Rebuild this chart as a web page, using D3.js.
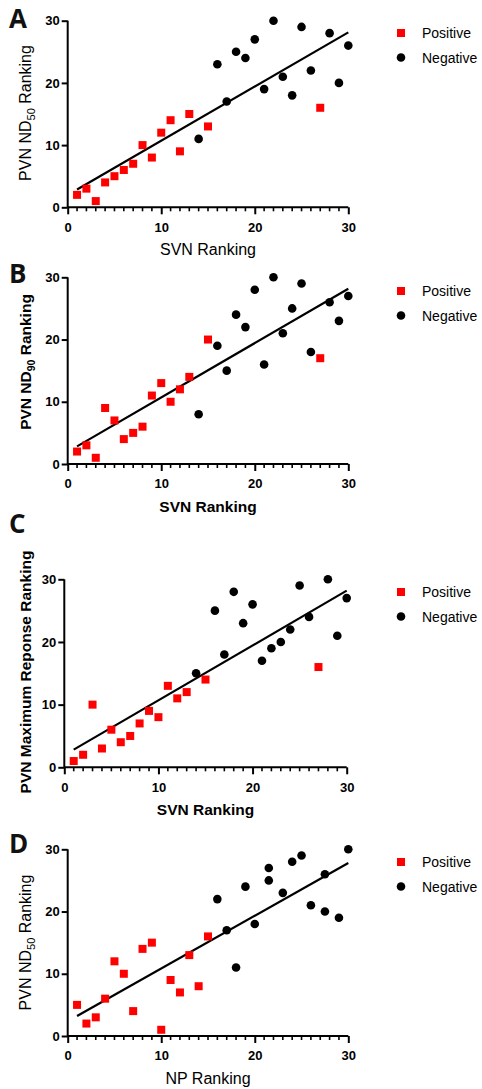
<!DOCTYPE html>
<html>
<head>
<meta charset="utf-8">
<script src="https://cdn.jsdelivr.net/npm/d3@7"></script>
<style>
html,body{margin:0;padding:0;background:#fff;}
svg{display:block;}
</style>
</head>
<body>
<svg id="chart" width="482" height="1089"></svg>
<script>
// ---------------- DATA ----------------
const panelLetters = ["A", "B", "C", "D"];
const xTickValues = [0, 10, 20, 30];
const yTickValues = [0, 10, 20, 30];
const legendLabels = ["Positive", "Negative"];

// Panel A: SVN ranking vs PVN ND50 ranking
const aPosX = [1, 2, 3, 4, 5, 6, 7, 8, 9, 10, 11, 12, 13, 15, 27];
const aPosY = [2, 3, 1, 4, 5, 6, 7, 10, 8, 12, 14, 9, 15, 13, 16];
const aNegX = [14, 16, 17, 18, 19, 20, 21, 22, 23, 24, 25, 26, 28, 29, 30];
const aNegY = [11, 23, 17, 25, 24, 27, 19, 30, 21, 18, 29, 22, 28, 20, 26];

// Panel B: SVN ranking vs PVN ND90 ranking
const bPosX = [1, 2, 3, 4, 5, 6, 7, 8, 9, 10, 11, 12, 13, 15, 27];
const bPosY = [2, 3, 1, 9, 7, 4, 5, 6, 11, 13, 10, 12, 14, 20, 17];
const bNegX = [14, 16, 17, 18, 19, 20, 21, 22, 23, 24, 25, 26, 28, 29, 30];
const bNegY = [8, 19, 15, 24, 22, 28, 16, 30, 21, 25, 29, 18, 26, 23, 27];

// Panel C: SVN ranking vs PVN maximum response ranking
const cPosX = [1, 2, 3, 4, 5, 6, 7, 8, 9, 10, 11, 12, 13, 15, 27];
const cPosY = [1, 2, 10, 3, 6, 4, 5, 7, 9, 8, 13, 11, 12, 14, 16];
const cNegX = [14, 16, 17, 18, 19, 20, 21, 22, 23, 24, 25, 26, 28, 29, 30];
const cNegY = [15, 25, 18, 28, 23, 26, 17, 19, 20, 22, 29, 24, 30, 21, 27];

// Panel D: NP ranking vs PVN ND50 ranking
const dPosX = [1, 2, 3, 4, 5, 6, 7, 8, 9, 10, 11, 12, 13, 14, 15];
const dPosY = [5, 2, 3, 6, 12, 10, 4, 14, 15, 1, 9, 7, 13, 8, 16];
const dNegX = [16, 17, 18, 19, 20, 21.5, 21.5, 23, 24, 25, 26, 27.5, 27.5, 29, 30];
const dNegY = [22, 17, 11, 24, 18, 27, 25, 23, 28, 29, 21, 26, 20, 19, 30];

const yTitles = [
  ["PVN ND", "50", " Ranking"],
  ["PVN ND", "90", " Ranking"],
  ["PVN Maximum Reponse Ranking", "", ""],
  ["PVN ND", "50", " Ranking"]
];
const xTitles = ["SVN Ranking", "SVN Ranking", "SVN Ranking", "NP Ranking"];

// ---------------- LAYOUT ----------------
const layout = [
  {x0: 67.7, x1: 348.3, yTop: 20.7, yBot: 207.3, bold: false, letterY: 28, xTitleY: 255, yTitleC: 113, legY: 33},
  {x0: 67.7, x1: 348.3, yTop: 277.3, yBot: 464, bold: true, letterY: 283, xTitleY: 512, yTitleC: 362, legY: 291},
  {x0: 64.3, x1: 346.7, yTop: 579.3, yBot: 767.3, bold: true, letterY: 533, xTitleY: 815, yTitleC: 672, legY: 592},
  {x0: 67.7, x1: 348.3, yTop: 849.3, yBot: 1036, bold: false, letterY: 853, xTitleY: 1083.5, yTitleC: 942.5, legY: 862}
];

const panels = [
  {pos: [aPosX, aPosY], neg: [aNegX, aNegY]},
  {pos: [bPosX, bPosY], neg: [bNegX, bNegY]},
  {pos: [cPosX, cPosY], neg: [cNegX, cNegY]},
  {pos: [dPosX, dPosY], neg: [dNegX, dNegY]}
];

const RED = "#ff0000";
const svg = d3.select("#chart");
const FONT = "'Liberation Sans', Arial, sans-serif";

function linfit(xs, ys) {
  const n = xs.length;
  const mx = d3.mean(xs), my = d3.mean(ys);
  let sxy = 0, sxx = 0;
  for (let i = 0; i < n; i++) { sxy += (xs[i] - mx) * (ys[i] - my); sxx += (xs[i] - mx) ** 2; }
  const b = sxy / sxx;
  return {b, a: my - b * mx};
}

panels.forEach((p, i) => {
  const L = layout[i];
  const g = svg.append("g");
  const x = d3.scaleLinear().domain([0, 30]).range([L.x0, L.x1]);
  const y = d3.scaleLinear().domain([0, 30]).range([L.yBot, L.yTop]);

  // minor x ticks
  const minor = d3.range(0, 31).filter(v => v % 10 !== 0);
  g.append("g").selectAll("line").data(minor).join("line")
    .attr("x1", d => x(d)).attr("x2", d => x(d))
    .attr("y1", L.yBot).attr("y2", L.yBot + 4)
    .attr("stroke", "#000").attr("stroke-width", 1.6);

  // x axis
  const xa = g.append("g").attr("transform", `translate(0,${L.yBot})`)
    .call(d3.axisBottom(x).tickValues(xTickValues).tickSize(7).tickPadding(8).tickFormat(d3.format("d")));
  // y axis
  const ya = g.append("g").attr("transform", `translate(${L.x0},0)`)
    .call(d3.axisLeft(y).tickValues(yTickValues).tickSize(6).tickPadding(2).tickFormat(d3.format("d")));
  [xa, ya].forEach(a => {
    a.select(".domain").attr("stroke", "#000").attr("stroke-width", 2)
      .attr("d", a === xa ? `M${L.x0},0H${L.x1}` : `M0,${L.yBot}V${L.yTop}`);
    a.selectAll(".tick line").attr("stroke", "#000").attr("stroke-width", 2);
    a.selectAll(".tick text").attr("font-family", FONT).attr("font-weight", "bold")
      .attr("font-size", 13).attr("fill", "#000");
  });
  xa.selectAll(".tick text").attr("dy", "0.71em");

  // regression line
  const allX = p.pos[0].concat(p.neg[0]);
  const allY = p.pos[1].concat(p.neg[1]);
  const fit = linfit(allX, allY);
  const xmin = d3.min(allX), xmax = d3.max(allX);
  g.append("line")
    .attr("x1", x(xmin)).attr("y1", y(fit.a + fit.b * xmin))
    .attr("x2", x(xmax)).attr("y2", y(fit.a + fit.b * xmax))
    .attr("stroke", "#000").attr("stroke-width", 2.2);

  // positive squares
  const posData = p.pos[0].map((v, k) => [v, p.pos[1][k]]);
  const negData = p.neg[0].map((v, k) => [v, p.neg[1][k]]);
  const S = 8;
  g.append("g").selectAll("rect").data(posData).join("rect")
    .attr("x", d => x(d[0]) - S / 2).attr("y", d => y(d[1]) - S / 2)
    .attr("width", S).attr("height", S).attr("fill", RED);
  g.append("g").selectAll("circle").data(negData).join("circle")
    .attr("cx", d => x(d[0])).attr("cy", d => y(d[1])).attr("r", 4.3).attr("fill", "#000");

  // panel letter
  svg.append("text").attr("x", 9).attr("y", L.letterY)
    .attr("font-family", "'Open Sans', 'DejaVu Sans', sans-serif").attr("font-weight", "bold")
    .attr("font-size", 26).attr("fill", "#111").text(panelLetters[i]);

  // x title
  svg.append("text").attr("x", (L.x0 + L.x1) / 2).attr("y", L.xTitleY)
    .attr("text-anchor", "middle").attr("font-family", FONT)
    .attr("font-weight", L.bold ? "bold" : "normal")
    .attr("font-size", L.bold ? 15.5 : 16).attr("fill", "#000").text(xTitles[i]);

  // y title
  const yt = svg.append("text")
    .attr("transform", `translate(31,${L.yTitleC}) rotate(-90)`)
    .attr("text-anchor", "middle").attr("font-family", FONT)
    .attr("font-weight", L.bold ? "bold" : "normal")
    .attr("font-size", L.bold ? 15.5 : 16).attr("fill", "#000");
  const parts = yTitles[i];
  yt.append("tspan").text(parts[0]);
  if (parts[1]) {
    yt.append("tspan").attr("font-size", L.bold ? 10.5 : 11).attr("dy", 4).text(parts[1]);
    yt.append("tspan").attr("dy", -4).text(parts[2]);
  }

  // legend
  const lg = svg.append("g");
  lg.append("rect").attr("x", 401 - 4).attr("y", L.legY - 4).attr("width", 8).attr("height", 8).attr("fill", RED);
  lg.append("circle").attr("cx", 401).attr("cy", L.legY + 24.5).attr("r", 4.3).attr("fill", "#000");
  legendLabels.forEach((t, k) => {
    lg.append("text").attr("x", 422).attr("y", L.legY + k * 24.5 + 5)
      .attr("font-family", FONT).attr("font-size", 14).attr("fill", "#000").text(t);
  });
});
</script>
</body>
</html>
